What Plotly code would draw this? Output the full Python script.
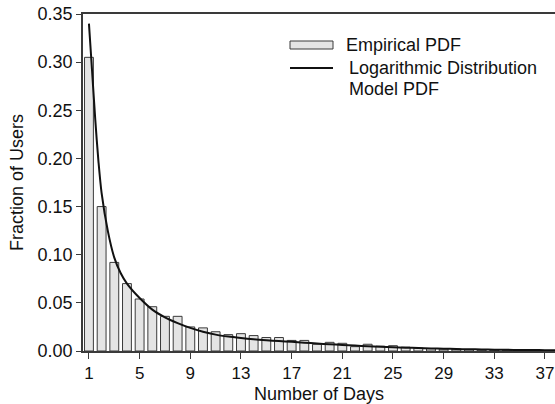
import plotly.graph_objects as go

# ---- data ----
days = list(range(1, 38))
empirical_pdf = [0.305, 0.150, 0.092, 0.070, 0.054, 0.046, 0.036, 0.036, 0.025, 0.024,
                 0.020, 0.017, 0.018, 0.016, 0.014, 0.014, 0.011, 0.011, 0.007, 0.009,
                 0.008, 0.0045, 0.007, 0.005, 0.0055, 0.004, 0.003, 0.0025, 0.002, 0.002,
                 0.0015, 0.001, 0.001, 0.0008, 0.0006, 0.0005, 0.0004]

model_x = [1, 1.25, 1.5, 1.75, 2, 2.5, 3, 3.5, 4, 5, 6, 7, 8, 9, 10, 11, 12, 13, 14, 15,
           16, 17, 18, 19, 20, 21, 22, 23, 24, 25, 26, 27, 28, 29, 30, 31, 32, 33, 34,
           35, 36, 37, 38]
model_pdf = [0.340, 0.290, 0.240, 0.197, 0.164, 0.124, 0.097, 0.081, 0.070, 0.055, 0.043,
             0.035, 0.029, 0.0240, 0.0200, 0.0170, 0.0150, 0.0135, 0.0122, 0.0112, 0.0103,
             0.0095, 0.0086, 0.0078, 0.0070, 0.0063, 0.0056, 0.0050, 0.0045, 0.0040,
             0.0035, 0.0031, 0.0027, 0.0024, 0.0021, 0.0018, 0.0016, 0.0014, 0.0012,
             0.0011, 0.0010, 0.0009, 0.0008]

x_ticks = list(range(1, 38, 4))
y_ticks = [0.00, 0.05, 0.10, 0.15, 0.20, 0.25, 0.30, 0.35]
y_tick_labels = ["%.2f" % v for v in y_ticks]

legend_labels = ["Empirical PDF", "Logarithmic Distribution", "Model PDF"]

# ---- layout constants (pixels) ----
W, H = 555, 404
L, R, T, B = 83, 555, 14, 351
FONT = "Liberation Sans, Arial, sans-serif"
BAR_FILL = "#e4e4e4"
EDGE = "#3a3a3a"

def px_x(p):
    return (p - L) / (R - L)

def px_y(p):
    return (B - p) / (B - T)

fig = go.Figure()
fig.add_trace(go.Bar(
    x=days, y=empirical_pdf, width=0.7,
    marker=dict(color=BAR_FILL, line=dict(color=EDGE, width=1)),
    name=legend_labels[0], showlegend=False,
))
fig.add_trace(go.Scatter(
    x=model_x, y=model_pdf, mode="lines",
    line=dict(color="#111111", width=2, shape="spline", smoothing=0.8),
    name=legend_labels[1] + " " + legend_labels[2], showlegend=False,
))

# manual legend
fig.add_shape(type="rect", xref="paper", yref="paper",
              x0=px_x(290), x1=px_x(333), y0=px_y(49), y1=px_y(41),
              fillcolor=BAR_FILL, line=dict(color=EDGE, width=1))
fig.add_shape(type="line", xref="paper", yref="paper",
              x0=px_x(290), x1=px_x(333), y0=px_y(68), y1=px_y(68),
              line=dict(color="#111111", width=2))
for label, lx, ly in [(legend_labels[0], 344, 45),
                      (legend_labels[1], 347, 68),
                      (legend_labels[2], 347, 89)]:
    fig.add_annotation(xref="paper", yref="paper", x=px_x(lx), y=px_y(ly),
                       text=label, showarrow=False, xanchor="left", yanchor="middle",
                       align="left", font=dict(family=FONT, size=18, color="#111"))

fig.update_layout(
    width=W, height=H,
    margin=dict(l=L, r=W - R, t=T, b=H - B),
    plot_bgcolor="white", paper_bgcolor="white",
    font=dict(family=FONT, size=18, color="#111"),
    xaxis=dict(
        range=[0.53, 37.79], tickmode="array", tickvals=x_ticks,
        ticks="outside", ticklen=6, tickcolor=EDGE, tickwidth=1,
        ticklabeloverflow="allow",
        showline=True, linecolor=EDGE, linewidth=1.5, mirror=True,
        showgrid=False, zeroline=False,
        tickfont=dict(size=17),
        title=dict(text="Number of Days", standoff=8, font=dict(size=18)),
    ),
    yaxis=dict(
        range=[0, 0.35], tickmode="array", tickvals=y_ticks, ticktext=y_tick_labels,
        ticks="outside", ticklen=5, tickcolor=EDGE, tickwidth=1,
        showline=True, linecolor=EDGE, linewidth=1.5,
        showgrid=False, zeroline=False,
        tickfont=dict(size=18),
        title=dict(text="Fraction of Users", standoff=9, font=dict(size=18)),
    ),
)

fig.write_html("out.html")
